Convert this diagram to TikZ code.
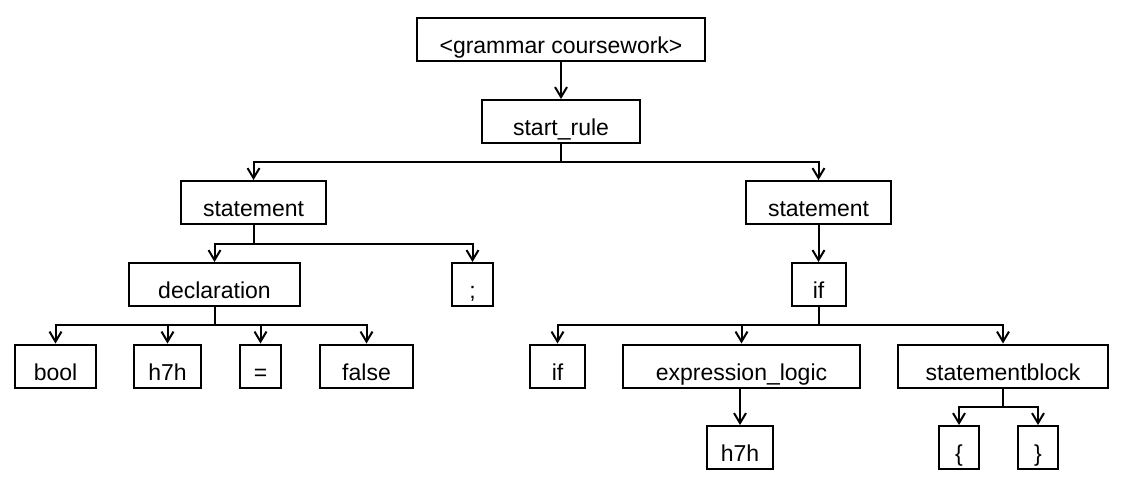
\documentclass[tikz,border=0pt]{standalone}
\usepackage{fontspec}
\setmainfont{Liberation Sans}
\usetikzlibrary{arrows.meta}

\tikzset{
  sym/.style={draw, line width=1pt, minimum width=#1, minimum height=21.5pt,
    inner sep=0pt, text height=14pt, text depth=0pt,
    font=\fontsize{11.5}{13}\selectfont},
  arr/.style={line width=1pt, -{Straight Barb[length=5pt,width=6pt]}},
}

\begin{document}
\begin{tikzpicture}[x=0.5pt,y=-0.5pt]
  \useasboundingbox (0,0) rectangle (1129,487);
  % Knoten
  \node[sym=144pt] (gram) at (561,39.5) {<grammar coursework>};
  \node[sym=79pt] (start) at (561,121.5) {start\_rule};
  \node[sym=72.5pt] (stL) at (253.5,202.5) {statement};
  \node[sym=72.5pt] (stR) at (818.5,202.5) {statement};
  \node[sym=85.5pt] (decl) at (214.5,284.5) {declaration};
  \node[sym=20.5pt] (semi) at (472.5,284.5) {;};
  \node[sym=27pt] (ifA) at (818.5,284.5) {if};
  \node[sym=40.5pt] (bool) at (55.5,366) {bool};
  \node[sym=33.5pt] (h7hA) at (167.5,366) {h7h};
  \node[sym=20.5pt] (eq) at (260.5,366) {=};
  \node[sym=46.5pt] (false) at (366.5,366) {false};
  \node[sym=27.5pt] (ifB) at (557.5,366) {if};
  \node[sym=118.5pt] (expr) at (741.5,366) {expression\_logic};
  \node[sym=105pt] (sblock) at (1003,366) {statementblock};
  \node[sym=33pt] (h7hB) at (740,447.5) {h7h};
  \node[sym=20pt] (lbr) at (959,447.5) {\{};
  \node[sym=20pt] (rbr) at (1038,447.5) {\}};
  % Verbindungen
  \draw[arr] (gram.south -| start.north) -- (start.north);
  \draw[arr] (stR.south -| ifA.north) -- (ifA.north);
  \draw[arr] (expr.south -| h7hB.north) -- (h7hB.north);
  \foreach \c in {stL,stR}
    \draw[arr] (start.south) -- ++(0,18) -| (\c.north);
  \foreach \c in {decl,semi}
    \draw[arr] (stL.south) -- ++(0,18.5) -| (\c.north);
  \foreach \c in {bool,h7hA,eq,false}
    \draw[arr] (decl.south) -- ++(0,18) -| (\c.north);
  \foreach \c in {ifB,expr,sblock}
    \draw[arr] (ifA.south) -- ++(0,18) -| (\c.north);
  \foreach \c in {lbr,rbr}
    \draw[arr] (sblock.south) -- ++(0,18) -| (\c.north);
\end{tikzpicture}
\end{document}
